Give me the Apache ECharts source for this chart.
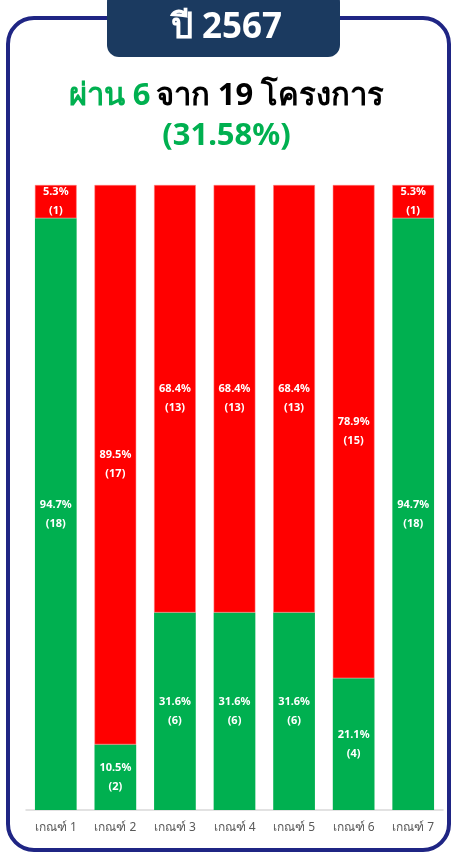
<!DOCTYPE html>
<html>
<head>
<meta charset="UTF-8">
<title></title>
<style>
  html, body { margin: 0; padding: 0; background: #fff; }
  #main { width: 453px; height: 853px; }
</style>
</head>
<body>
<div id="main"></div>
<script src="https://cdn.jsdelivr.net/npm/echarts@6/dist/echarts.min.js"></script>
<script>
var categories = ['เกณฑ์ 1', 'เกณฑ์ 2', 'เกณฑ์ 3', 'เกณฑ์ 4', 'เกณฑ์ 5', 'เกณฑ์ 6', 'เกณฑ์ 7'];
var passPct = [94.7, 10.5, 31.6, 31.6, 31.6, 21.1, 94.7];
var failPct = [5.3, 89.5, 68.4, 68.4, 68.4, 78.9, 5.3];
var passCount = [18, 2, 6, 6, 6, 4, 18];
var failCount = [1, 17, 13, 13, 13, 15, 1];

var FONT = '"Noto Sans", "Open Sans", sans-serif';
var chart = echarts.init(document.getElementById('main'));

function labelFor(pcts, counts) {
  return {
    show: true,
    position: 'inside',
    color: '#fff',
    fontFamily: FONT,
    fontWeight: 'bold',
    fontSize: 11,
    lineHeight: 19,
    formatter: function (p) {
      return pcts[p.dataIndex].toFixed(1) + '%\n(' + counts[p.dataIndex] + ')';
    }
  };
}

chart.setOption({
  animation: false,
  title: [{
    text: '{g|ผ่าน 6} {b|จาก 19 โครงการ}\n{g|(31.58%)}',
    left: 'center',
    top: 71,
    textStyle: {
      rich: {
        g: { color: '#00b050', fontSize: 31, fontWeight: 'bold', fontFamily: FONT, lineHeight: 40 },
        b: { color: '#000', fontSize: 31, fontWeight: 'bold', fontFamily: FONT, lineHeight: 40 }
      }
    }
  }],
  graphic: [
    {
      type: 'rect',
      shape: { x: 8, y: 18, width: 441, height: 832, r: 26 },
      style: { fill: 'none', stroke: '#1f2584', lineWidth: 4 },
      z: 0
    },
    {
      type: 'rect',
      shape: { x: 107, y: -10, width: 233, height: 67, r: 12 },
      style: { fill: '#1b3a60' },
      z: 10
    },
    {
      type: 'text',
      left: 'center',
      top: 11,
      style: { text: 'ปี 2567', fill: '#fff', font: 'bold 35px ' + FONT },
      z: 11
    }
  ],
  grid: { left: 26, right: 10, top: 185, bottom: 43 },
  xAxis: {
    type: 'category',
    data: categories,
    axisTick: { show: false },
    axisLine: { lineStyle: { color: '#d9d9d9', width: 1.5 } },
    axisLabel: { color: '#595959', fontSize: 12, fontFamily: FONT, margin: 12 }
  },
  yAxis: {
    type: 'value',
    min: 0,
    max: 100,
    show: false,
    splitLine: { show: false }
  },
  series: [
    {
      name: 'ผ่าน',
      type: 'bar',
      stack: 'a',
      barWidth: '70%',
      data: passPct,
      itemStyle: { color: '#00b050' },
      label: labelFor(passPct, passCount)
    },
    {
      name: 'ไม่ผ่าน',
      type: 'bar',
      stack: 'a',
      data: failPct,
      itemStyle: { color: '#ff0000', borderColor: '#ff8080', borderWidth: 0.5 },
      label: labelFor(failPct, failCount)
    }
  ]
});
</script>
</body>
</html>
